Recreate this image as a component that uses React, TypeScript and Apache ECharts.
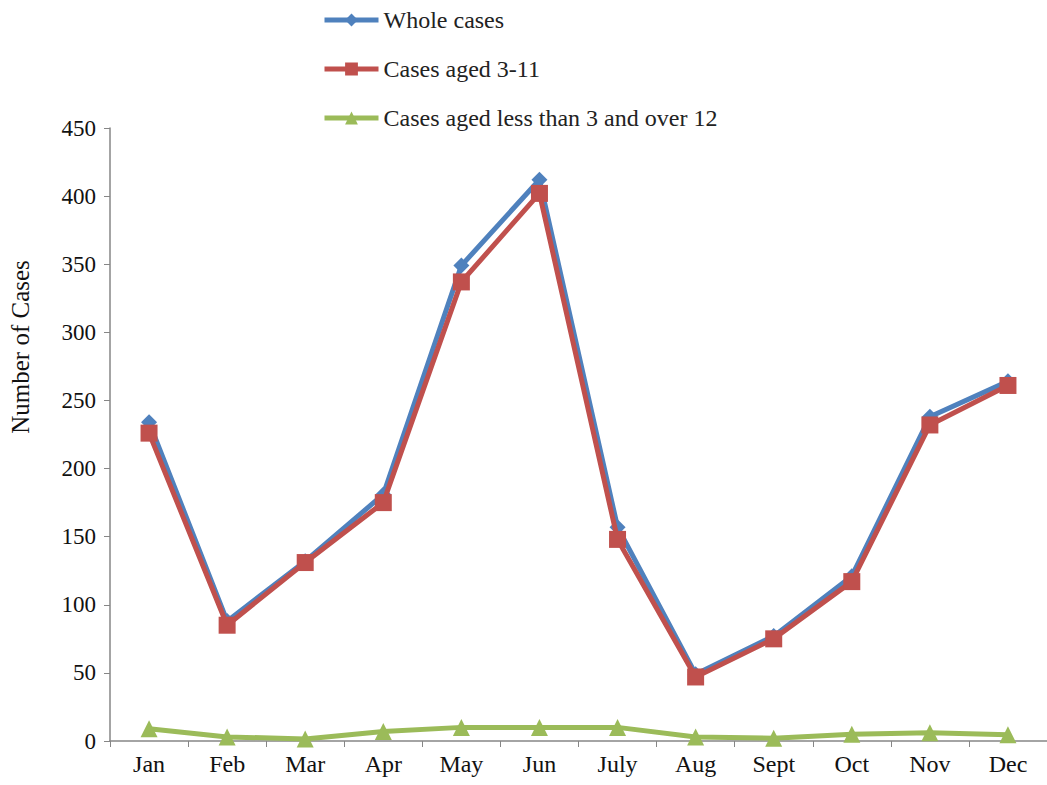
import React, { useEffect, useRef } from "react";
import * as echarts from "echarts";

const months = ["Jan", "Feb", "Mar", "Apr", "May", "Jun", "July", "Aug", "Sept", "Oct", "Nov", "Dec"];
const wholeCases = [234, 88, 132, 181, 349, 412, 157, 49, 77, 121, 238, 264];
const cases3to11 = [226, 85, 131, 175, 337, 402, 148, 47, 75, 117, 232, 261];
const casesOther = [9, 3, 1.5, 7, 10, 10, 10, 3, 2, 5, 6, 4.5];
const yTicks = { min: 0, max: 450, interval: 50 };

const FONT = "'Liberation Serif', 'DejaVu Serif', serif";

export default function App() {
  const ref = useRef<HTMLDivElement>(null);
  useEffect(() => {
    const chart = echarts.init(ref.current!, null, { renderer: "svg" });
    const lineStyle = (c: string) => ({ color: c, width: 5 });
    chart.setOption({
      animation: false,
      backgroundColor: "#ffffff",
      textStyle: { fontFamily: FONT },
      legend: {
        orient: "vertical",
        left: 317,
        top: 3,
        itemWidth: 54,
        itemHeight: 16,
        itemGap: 25,
        lineStyle: { width: 5 },
        textStyle: { fontFamily: FONT, fontSize: 24, color: "#222" },
        data: ["Whole cases", "Cases aged 3-11", "Cases aged less than 3 and over 12"],
      },
      grid: { left: 110, top: 128, width: 944, height: 613 },
      xAxis: {
        type: "category",
        data: months,
        boundaryGap: true,
        axisLine: { lineStyle: { color: "#868686", width: 1.5 } },
        axisTick: { show: true, length: 6, alignWithLabel: false, lineStyle: { color: "#868686" } },
        axisLabel: { fontFamily: FONT, fontSize: 24, color: "#111", margin: 11 },
        splitLine: { show: false },
      },
      yAxis: {
        type: "value",
        min: yTicks.min,
        max: yTicks.max,
        interval: yTicks.interval,
        axisLine: { show: true, lineStyle: { color: "#868686", width: 1.5 } },
        axisTick: { show: true, length: 6, lineStyle: { color: "#868686" } },
        axisLabel: { fontFamily: FONT, fontSize: 23, color: "#111", margin: 14 },
        splitLine: { show: false },
      },
      graphic: [
        {
          type: "text",
          x: 20,
          y: 347,
          rotation: Math.PI / 2,
          style: {
            text: "Number of Cases",
            fontFamily: FONT,
            fontSize: 25,
            fill: "#111",
            align: "center",
            verticalAlign: "middle",
          },
        },
      ],
      series: [
        {
          name: "Whole cases",
          type: "line",
          data: wholeCases,
          symbol: "diamond",
          symbolSize: 16,
          itemStyle: { color: "#4F81BD" },
          lineStyle: lineStyle("#4F81BD"),
          z: 2,
        },
        {
          name: "Cases aged 3-11",
          type: "line",
          data: cases3to11,
          symbol: "rect",
          symbolSize: 17,
          itemStyle: { color: "#C0504D" },
          lineStyle: lineStyle("#C0504D"),
          z: 3,
        },
        {
          name: "Cases aged less than 3 and over 12",
          type: "line",
          data: casesOther,
          symbol: "triangle",
          symbolSize: 17,
          itemStyle: { color: "#9BBB59" },
          lineStyle: lineStyle("#9BBB59"),
          z: 4,
        },
      ],
    });
    return () => chart.dispose();
  }, []);
  return (
    <div
      ref={ref}
      style={{ position: "absolute", left: 0, top: 0, width: 1047, height: 785 }}
    />
  );
}
